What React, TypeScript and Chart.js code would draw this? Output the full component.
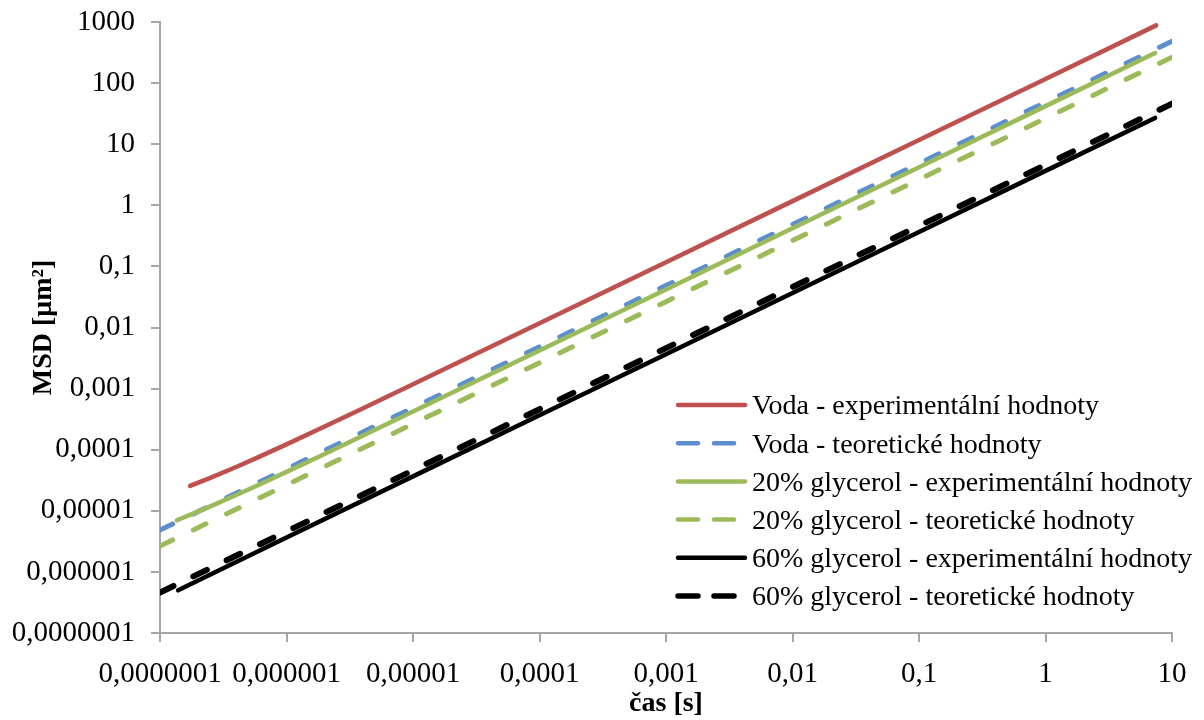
import React, { useEffect, useRef } from "react";
import { Chart, registerables } from "chart.js";

Chart.register(...registerables);

// ---- data ----
const xTickValues = [1e-7, 1e-6, 1e-5, 1e-4, 1e-3, 1e-2, 1e-1, 1, 10];
const xTickLabels = ["0,0000001", "0,000001", "0,00001", "0,0001", "0,001", "0,01", "0,1", "1", "10"];
const yTickValues = [1e-7, 1e-6, 1e-5, 1e-4, 1e-3, 1e-2, 1e-1, 1, 10, 100, 1000];
const yTickLabels = ["0,0000001", "0,000001", "0,00001", "0,0001", "0,001", "0,01", "0,1", "1", "10", "100", "1000"];

const seriesLabels = [
  "Voda - experimentální hodnoty",
  "Voda - teoretické hodnoty",
  "20% glycerol - experimentální hodnoty",
  "20% glycerol - teoretické hodnoty",
  "60% glycerol - experimentální hodnoty",
  "60% glycerol - teoretické hodnoty",
];

const timeVodaExp = [1.73e-7, 2.5e-7, 4e-7, 6e-7, 1e-6, 2e-6, 4e-6, 1e-5, 1e-4, 1e-3, 1e-2, 1e-1, 1, 7.5];
const msdVodaExp = [2.55e-5, 3.46e-5, 5.21e-5, 7.55e-5, 1.22e-4, 2.39e-4, 4.73e-4, 1.175e-3, 1.17e-2, 0.117, 1.17, 11.7, 117, 880];

const timeTheory = [1e-7, 1e-6, 1e-5, 1e-4, 1e-3, 1e-2, 1e-1, 1, 10];
const msdVodaTeor = [4.85e-6, 4.85e-5, 4.85e-4, 4.85e-3, 0.0485, 0.485, 4.85, 48.5, 485];

const timeG20Exp = [1.36e-7, 2.5e-7, 4e-7, 6e-7, 1e-6, 2e-6, 4e-6, 1e-5, 1e-4, 1e-3, 1e-2, 1e-1, 1, 7.35];
const msdG20Exp = [7.0e-6, 1.18e-5, 1.81e-5, 2.65e-5, 4.33e-5, 8.53e-5, 1.69e-4, 4.21e-4, 4.2e-3, 0.042, 0.42, 4.2, 42, 310];

const msdG20Teor = [2.65e-6, 2.65e-5, 2.65e-4, 2.65e-3, 0.0265, 0.265, 2.65, 26.5, 265];

const timeG60Exp = [1.39e-7, 1e-6, 1e-5, 1e-4, 1e-3, 1e-2, 1e-1, 1, 7.35];
const msdG60Exp = [5.0e-7, 3.66e-6, 3.66e-5, 3.66e-4, 3.66e-3, 0.0366, 0.366, 3.66, 26.9];

const msdG60Teor = [4.6e-7, 4.6e-6, 4.6e-5, 4.6e-4, 4.6e-3, 0.046, 0.46, 4.6, 46];

const colors = ["#C0504D", "#5B8FCF", "#9BBB59", "#9BBB59", "#000000", "#000000"];

const FONT = '"Liberation Serif", "Times New Roman", serif';

function pts(xs: number[], ys: number[]) {
  return xs.map((x, i) => ({ x, y: ys[i] }));
}

function labelFor(values: number[], labels: string[]) {
  return (value: any) => {
    const v = Number(value);
    const i = values.findIndex((t) => Math.abs(Math.log10(t) - Math.log10(v)) < 1e-6);
    return i >= 0 ? labels[i] : "";
  };
}

const legendDashes: (number[] | null)[] = [null, [20, 16], null, [20, 16], null, [20, 16]];
const legendWidths = [4.5, 4.5, 4.5, 4.5, 4.5, 5.5];

const legendPlugin = {
  id: "customLegend",
  afterDraw(chart: any) {
    const ctx = chart.ctx as CanvasRenderingContext2D;
    ctx.save();
    const x0 = 678;
    const x1 = 745;
    const textX = 752;
    const yStart = 405;
    const dy = 38.2;
    chart.data.datasets.forEach((ds: any, i: number) => {
      const y = yStart + i * dy;
      ctx.strokeStyle = ds.borderColor;
      ctx.lineWidth = legendWidths[i];
      ctx.lineCap = "round";
      ctx.setLineDash(legendDashes[i] || []);
      ctx.beginPath();
      ctx.moveTo(x0, y);
      ctx.lineTo(legendDashes[i] ? 735 : x1, y);
      ctx.stroke();
      ctx.setLineDash([]);
      ctx.fillStyle = "#000";
      ctx.font = `28px ${FONT}`;
      ctx.textAlign = "left";
      ctx.textBaseline = "middle";
      ctx.fillText(ds.label, textX, y + 2);
    });
    ctx.restore();
  },
};

export default function App() {
  const canvasRef = useRef<HTMLCanvasElement | null>(null);

  useEffect(() => {
    if (!canvasRef.current) return;
    const mk = (i: number, data: any[], dash: number[] | undefined, width: number) => ({
      label: seriesLabels[i],
      data,
      borderColor: colors[i],
      backgroundColor: colors[i],
      borderWidth: width,
      borderDash: dash,
      borderCapStyle: "round" as const,
      borderJoinStyle: "round" as const,
      pointRadius: 0,
      showLine: true,
      fill: false,
      tension: 0,
      order: 5 - i,
    });

    const chart = new Chart(canvasRef.current, {
      type: "scatter",
      data: {
        datasets: [
          mk(0, pts(timeVodaExp, msdVodaExp), undefined, 4.5),
          mk(1, pts(timeTheory, msdVodaTeor), [14, 23], 5),
          mk(2, pts(timeG20Exp, msdG20Exp), undefined, 4.5),
          mk(3, pts(timeTheory, msdG20Teor), [14, 23], 5),
          mk(4, pts(timeG60Exp, msdG60Exp), undefined, 4.5),
          mk(5, pts(timeTheory, msdG60Teor), [15, 22], 6),
        ],
      },
      options: {
        animation: false,
        responsive: false,
        maintainAspectRatio: false,
        layout: { padding: { top: 22, right: 32, left: 0, bottom: 0 } },
        plugins: {
          legend: { display: false },
          tooltip: { enabled: false },
        },
        scales: {
          x: {
            type: "logarithmic",
            min: 1e-7,
            max: 10,
            afterBuildTicks: (scale: any) => {
              scale.ticks = xTickValues.map((v) => ({ value: v }));
            },
            afterFit: (scale: any) => {
              scale.height = 87;
            },
            ticks: {
              callback: labelFor(xTickValues, xTickLabels),
              font: { family: FONT, size: 29 },
              color: "#000",
              padding: 15,
              maxRotation: 0,
              minRotation: 0,
              autoSkip: false,
            },
            grid: {
              drawOnChartArea: false,
              drawTicks: true,
              tickLength: 9,
              color: "#a6a6a6",
              lineWidth: 2,
            },
            border: { display: true, color: "#a6a6a6", width: 2 },
            title: {
              display: true,
              text: "čas [s]",
              font: { family: FONT, size: 28, weight: "bold" },
              color: "#000",
              padding: { top: 0, bottom: -1 },
            },
          },
          y: {
            type: "logarithmic",
            min: 1e-7,
            max: 1000,
            afterBuildTicks: (scale: any) => {
              scale.ticks = yTickValues.map((v) => ({ value: v }));
            },
            afterFit: (scale: any) => {
              scale.width = 160;
              scale.paddingTop = 0;
              scale.paddingBottom = 0;
            },
            ticks: {
              callback: labelFor(yTickValues, yTickLabels),
              font: { family: FONT, size: 29 },
              color: "#000",
              padding: 16,
              autoSkip: false,
            },
            grid: {
              drawOnChartArea: false,
              drawTicks: true,
              tickLength: 9,
              color: "#a6a6a6",
              lineWidth: 2,
            },
            border: { display: true, color: "#a6a6a6", width: 2 },
            title: {
              display: true,
              text: "MSD [μm²]",
              font: { family: FONT, size: 28, weight: "bold" },
              color: "#000",
              padding: { top: 27, bottom: 0 },
            },
          },
        },
      } as any,
      plugins: [legendPlugin],
    });

    return () => {
      chart.destroy();
    };
  }, []);

  return (
    <div style={{ position: "absolute", left: 0, top: 0, width: 1204, height: 720, background: "#fff" }}>
      <canvas ref={canvasRef} width={1204} height={720} style={{ display: "block" }} />
    </div>
  );
}
